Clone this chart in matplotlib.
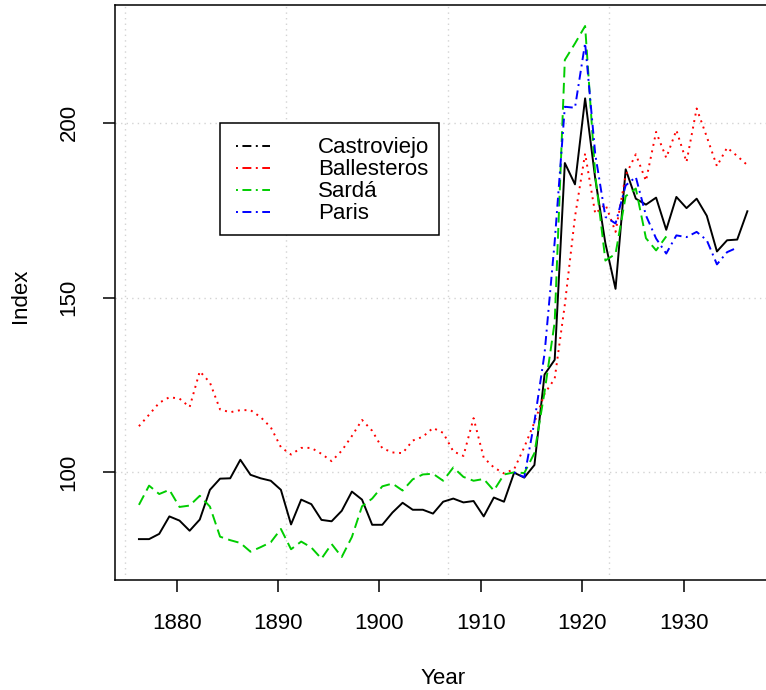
import numpy as np
import matplotlib
matplotlib.use('Agg')
import matplotlib.pyplot as plt
from matplotlib.lines import Line2D
from matplotlib.patches import Rectangle

# ── Data (index values) ────────────────────────────────────────────────────
START_YEAR = 1876

castroviejo = [80.9, 80.9, 82.4, 87.4, 86.2, 83.3, 86.5, 95.0, 98.2, 98.3,
               103.6, 99.3, 98.3, 97.6, 95.0, 85.1, 92.2, 90.9, 86.4, 86.0,
               89.0, 94.5, 92.2, 85.0, 85.0, 88.5, 91.3, 89.3, 89.3, 88.2,
               91.6, 92.5, 91.4, 91.8, 87.4, 92.8, 91.6, 99.9, 98.5, 102.1,
               128.0, 132.2, 188.5, 182.4, 207.0, 184.0, 165.5, 152.5, 186.7, 178.3,
               176.6, 178.6, 169.4, 178.8, 175.6, 178.3, 173.4, 163.2, 166.4, 166.6,
               174.7]

ballesteros = [113.2, 116.5, 119.9, 121.5, 121.1, 118.7, 128.9, 125.7, 118.0, 117.2,
               117.8, 117.8, 115.8, 112.9, 107.2, 105.1, 107.0, 107.0, 105.3, 103.2,
               106.2, 110.4, 115.0, 111.9, 106.9, 105.7, 105.5, 109.1, 110.2, 112.7,
               111.3, 106.0, 104.7, 115.5, 104.2, 101.4, 99.7, 100.9, 107.2, 114.3,
               122.5, 126.8, 148.0, 173.1, 191.2, 174.0, 176.7, 168.8, 185.0, 191.0,
               183.4, 197.4, 190.0, 197.9, 188.8, 204.1, 196.0, 187.6, 192.9, 190.5,
               187.9]

sarda = [90.7, 96.2, 93.8, 95.0, 90.1, 90.5, 93.3, 90.2, 81.6, 80.6,
         79.8, 77.3, 78.6, 80.0, 83.8, 78.0, 80.2, 78.5, 75.3, 79.5,
         75.8, 81.5, 90.3, 92.5, 96.0, 96.8, 94.8, 98.0, 99.4, 99.6,
         97.6, 101.4, 98.7, 97.6, 98.1, 94.8, 99.4, 100.0, 99.8, 105.5,
         123.0, 143.0, 218.0, 222.7, 227.7, 185.0, 160.6, 162.5, 179.0, 181.2,
         167.0, 163.5, 167.5]

PARIS_START = 1913
paris = [100.0, 98.6, 114.5, 134.0, 166.0, 204.6, 204.3, 222.8, 191.0, 173.1,
         171.2, 182.1, 184.5, 173.5, 166.9, 162.6, 167.8, 167.3, 168.8, 166.4,
         159.5, 163.0, 164.3]

names = ['Castroviejo', 'Ballesteros', 'Sardá', 'Paris']
colors = ['black', '#FF0000', '#00CD00', '#0000FF']

# series sit a little past the start of each year on the time axis
X_SHIFT = 0.28

# ── Style ──────────────────────────────────────────────────────────────────
plt.rcParams.update({
    'font.family': ['Liberation Sans', 'DejaVu Sans'],
    'font.size': 16,
})

W, H = 766, 690
fig = plt.figure(figsize=(W / 100, H / 100), dpi=100)

series = [
    (np.arange(START_YEAR, START_YEAR + len(castroviejo)), castroviejo),
    (np.arange(START_YEAR, START_YEAR + len(ballesteros)), ballesteros),
    (np.arange(START_YEAR, START_YEAR + len(sarda)), sarda),
    (np.arange(PARIS_START, PARIS_START + len(paris)), paris),
]
styles = ['-', (0, (1, 2.4)), (0, (5.5, 2.8)), (0, (1, 2.3, 4.6, 2.3))]

# R-like 4% padding of the data range
all_x = np.concatenate([s[0] for s in series]) + X_SHIFT
all_y = np.concatenate([np.asarray(s[1]) for s in series])
xr = all_x.max() - all_x.min()
yr = all_y.max() - all_y.min()
xlim = (all_x.min() - 0.04 * xr, all_x.max() + 0.04 * xr)
ylim = (all_y.min() - 0.04 * yr, all_y.max() + 0.04 * yr)

# plot region in pixels (right edge runs just off the canvas)
left_px, right_px, top_px, bot_px = 114.6, 771.7, 4.7, 580.0
ax = fig.add_axes([left_px / W, 1 - bot_px / H,
                   (right_px - left_px) / W, (bot_px - top_px) / H])
ax.set_xlim(*xlim)
ax.set_ylim(*ylim)

# ── Grid (light grey dotted) ───────────────────────────────────────────────
grid_kw = dict(color='#d3d3d3', linestyle=(0, (1, 3)), linewidth=1.0, zorder=0.5)
for gx in 1874.95 + 15.88 * np.arange(4):
    ax.axvline(gx, **grid_kw)
for gy in [100, 150, 200]:
    ax.axhline(gy, **grid_kw)

# ── Series ─────────────────────────────────────────────────────────────────
for (yrs, vals), col, ls in zip(series, colors, styles):
    ax.plot(yrs + X_SHIFT, vals, color=col, linestyle=ls, linewidth=1.4,
            dash_capstyle='butt', zorder=2)

# ── Axes ───────────────────────────────────────────────────────────────────
ax.set_xticks([1880, 1890, 1900, 1910, 1920, 1930])
ax.set_yticks([100, 150, 200])
for sp in ax.spines.values():
    sp.set_linewidth(1.1)
ax.tick_params(direction='out', length=8.6, width=1.1, labelsize=16)
ax.tick_params(axis='x', pad=15)
ax.tick_params(axis='y', pad=16.5)
for lab in ax.get_yticklabels():
    lab.set_rotation(90)
    lab.set_va('center')

fig.text(443 / W, 1 - 678 / H, 'Year', ha='center', va='center', fontsize=16)
fig.text(20 / W, 1 - 296 / H, 'Index', ha='center', va='center',
         rotation=90, fontsize=16)

# ── Legend (drawn R-style) ─────────────────────────────────────────────────
lx0, lx1, ly0, ly1 = 219.5, 439.0, 123.3, 235.0
fig.add_artist(Rectangle((lx0 / W, 1 - ly1 / H), (lx1 - lx0) / W, (ly1 - ly0) / H,
                         transform=fig.transFigure, facecolor='white',
                         edgecolor='black', linewidth=1.1, zorder=5))
for i, (name, col) in enumerate(zip(names, colors)):
    base = 153.3 + 22.0 * i
    ly = 1 - (base - 7) / H
    fig.add_artist(Line2D([236 / W, 270 / W], [ly, ly], transform=fig.transFigure,
                          color=col, linewidth=1.4,
                          linestyle=(0, (1, 2.3, 4.6, 2.3)), zorder=6))
    fig.text(318 / W, 1 - base / H, name, ha='left', va='baseline',
             fontsize=16, zorder=6)

fig.savefig('out.png', dpi=100, facecolor='white')
